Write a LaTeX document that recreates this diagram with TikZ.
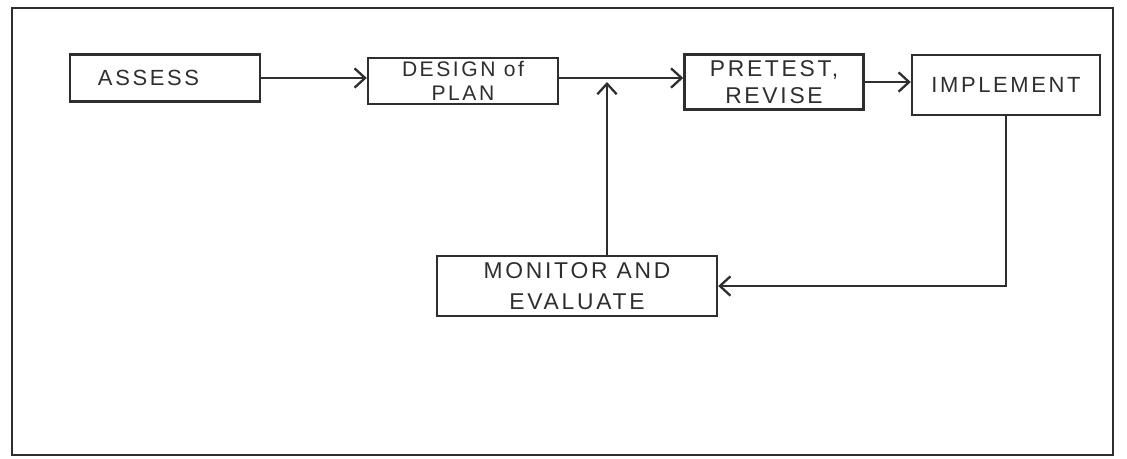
\documentclass[tikz,border=0pt]{standalone}
\usepackage{fontspec}
\setmainfont{Liberation Sans}[LetterSpace=12]
\usetikzlibrary{arrows.meta}
\definecolor{ink}{HTML}{2E2E2E}
\begin{document}
\begin{tikzpicture}[x=0.02cm,y=-0.02cm,
  box/.style={draw=ink,line width=1.4pt,inner sep=0pt,align=center,text=ink,font=\fontsize{12.5}{16}\selectfont},
  flow/.style={draw=ink,line width=1.3pt,-{Straight Barb[length=6pt,width=11pt,line width=1.3pt]}},
  frame/.style={draw=ink,line width=1.4pt}]
\useasboundingbox (0,0) rectangle (1127,458);
\draw[frame] (12,8) rectangle (1113,455);
\node[box,minimum width=3.8cm,minimum height=0.94cm] (assess) at (165,78) {ASSESS\hspace{1.5em}};
\node[box,font=\fontsize{12}{13.5}\selectfont,minimum width=3.8cm,minimum height=0.92cm] (design) at (463,81) {DESIGN of\\PLAN};
\node[box,font=\fontsize{13}{15.5}\selectfont,minimum width=3.58cm,minimum height=1.1cm] (pretest) at (774,82) {PRETEST,\\REVISE};
\node[box,minimum width=3.76cm,minimum height=1.2cm] (implement) at (1006,85) {IMPLEMENT};
\node[box,font=\fontsize{13}{18}\selectfont,minimum width=5.6cm,minimum height=1.2cm] (monitor) at (577,286) {MONITOR AND\\EVALUATE\hspace{3em}};
\coordinate (j) at (607,82);
\draw[flow] (assess.east) -- (design.west |- assess.east);
\draw[flow] (design.east |- assess.east) -- (pretest.west |- assess.east);
\draw[flow] (pretest.east) -- (implement.west |- pretest.east);
\draw[flow] (j |- monitor.north) -- (j);
\draw[flow] (implement.south) -- (implement.south |- monitor.east) -- (monitor.east);
\end{tikzpicture}
\end{document}
